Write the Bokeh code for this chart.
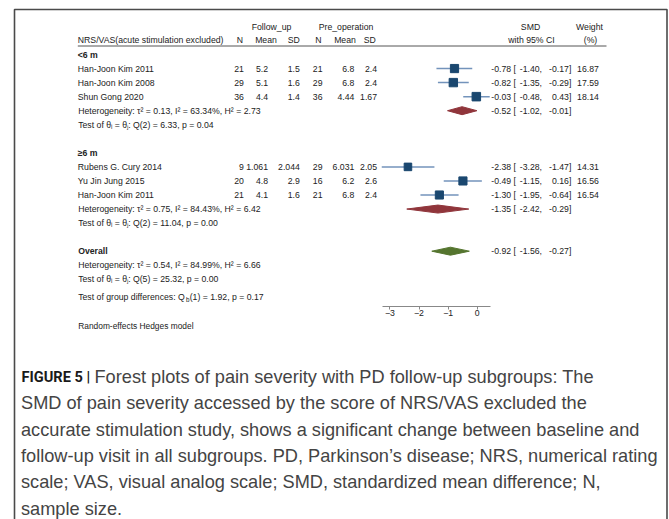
from math import sqrt
from bokeh.plotting import figure
from bokeh.models import Range1d, ColumnDataSource, LinearAxis, FixedTicker
from bokeh.core.properties import value
from bokeh.embed import file_html
from bokeh.resources import INLINE

# ---------------- data ----------------
groups = ["<6 m", "≥6 m"]
study_group = [0, 0, 0, 1, 1, 1]
studies = ["Han-Joon Kim 2011", "Han-Joon Kim 2008", "Shun Gong 2020",
           "Rubens G. Cury 2014", "Yu Jin Jung 2015", "Han-Joon Kim 2011"]
fu_n = [21, 29, 36, 9, 20, 21]
fu_mean = [5.2, 5.1, 4.4, 1.061, 4.8, 4.1]
fu_sd = [1.5, 1.6, 1.4, 2.044, 2.9, 1.6]
pre_n = [21, 29, 36, 29, 16, 21]
pre_mean = [6.8, 6.8, 4.44, 6.031, 6.2, 6.8]
pre_sd = [2.4, 2.4, 1.67, 2.05, 2.6, 2.4]
smd = [-0.78, -0.82, -0.03, -2.38, -0.49, -1.30]
smd_lo = [-1.40, -1.35, -0.48, -3.28, -1.15, -1.95]
smd_hi = [-0.17, -0.29, 0.43, -1.47, 0.16, -0.64]
weight = [16.87, 17.59, 18.14, 14.31, 16.56, 16.54]

sub_smd = [-0.52, -1.35]
sub_lo = [-1.02, -2.42]
sub_hi = [-0.01, -0.29]
sub_tau2 = [0.13, 0.75]
sub_i2 = [63.34, 84.43]
sub_h2 = [2.73, 6.42]
sub_qdf = [2, 2]
sub_q = [6.33, 11.04]
sub_p = [0.04, 0.00]

overall_smd, overall_lo, overall_hi = -0.92, -1.56, -0.27
overall_tau2, overall_i2, overall_h2 = 0.54, 84.99, 6.66
overall_qdf, overall_q, overall_p = 5, 25.32, 0.00
qb_df, qb, qb_p = 1, 1.92, 0.17

axis_ticks = [-3, -2, -1, 0]

caption_bold = "FIGURE 5 |"
caption_lines = [
    "Forest plots of pain severity with PD follow-up subgroups: The",
    "SMD of pain severity accessed by the score of NRS/VAS excluded the",
    "accurate stimulation study, shows a significant change between baseline and",
    "follow-up visit in all subgroups. PD, Parkinson\u2019s disease; NRS, numerical rating",
    "scale; VAS, visual analog scale; SMD, standardized mean difference; N,",
    "sample size.",
]

# ---------------- layout ----------------
W, H = 669, 519
ZERO_PX, UNIT_PX = 476.7, 29.1


def X(px):
    return (px - ZERO_PX) / UNIT_PX


p = figure(width=W, height=H, output_backend="svg", toolbar_location=None,
           x_range=Range1d(X(0), X(W)), y_range=Range1d(H, 0),
           x_axis_type=None, y_axis_type=None, min_border=0,
           outline_line_color=None, background_fill_color="white",
           border_fill_color="white")

TXT = "#222222"
FS = "8.7px"


def txt(xs, ys, ss, align="left", size=FS, color=TXT, style="normal",
        font="Liberation Sans", baseline="middle"):
    src = ColumnDataSource(dict(x=xs, y=ys, t=ss))
    p.text(x="x", y="y", text="t", source=src, text_align=align,
           text_baseline=baseline, text_font=value(font),
           text_font_size=value(size), text_color=color, text_font_style=style)


STEP, ROW0 = 14.05, 54.0


def row(r):
    return ROW0 + r * STEP


# frame
p.line(x=[X(14), X(14), X(666.5), X(666.5)], y=[H, 9, 9, H],
       line_color="#4a4a4a", line_width=1.6)

# header
txt([X(271), X(345.5), X(530), X(589)], [26.7] * 4,
    ["Follow_up", "Pre_operation", "SMD", "Weight"], align="center")
txt([X(77.3)], [39.3], ["NRS/VAS(acute stimulation excluded)"])
txt([X(242.5), X(299.3)], [39.3] * 2, ["N", "SD"], align="right")
txt([X(265.5), X(318), X(344.5), X(369.3), X(531), X(590)], [39.3] * 6,
    ["Mean", "N", "Mean", "SD", "with 95% CI", "(%)"], align="center")
p.line(x=[X(77.3), X(606)], y=[45.5, 45.5], line_color="#555555", line_width=1)

# row assignment
study_rows, head_rows, sum_rows = [], [], []
r = 0
for g in range(len(groups)):
    head_rows.append(row(r))
    r += 1
    for i, sg in enumerate(study_group):
        if sg == g:
            study_rows.append(row(r))
            r += 1
    sum_rows.append(row(r))
    r += 3
overall_row = row(r)
overall_het = row(r + 1)
overall_test = row(r + 2)
groupdiff_row = overall_test + 17.9

# group headers
txt([X(77.3)] * len(groups), head_rows, groups, style="bold")
txt([X(77.7)], [overall_row], ["Overall"], style="bold")

# study table
txt([X(77.3)] * len(studies), study_rows, studies)
txt([X(243.3)] * 6, study_rows, [f"{v}" for v in fu_n], align="right")
txt([X(267.5)] * 6, study_rows, [f"{v:g}" for v in fu_mean], align="right")
txt([X(299.3)] * 6, study_rows, [f"{v:g}" for v in fu_sd], align="right")
txt([X(322)] * 6, study_rows, [f"{v}" for v in pre_n], align="right")
txt([X(353.8)] * 6, study_rows, [f"{v:g}" for v in pre_mean], align="right")
txt([X(376.5)] * 6, study_rows, [f"{v:g}" for v in pre_sd], align="right")


def ci_cols(ests, los, his, ys):
    txt([X(515.5)] * len(ys), ys, [f"{e:.2f} [" for e in ests], align="right")
    txt([X(541.5)] * len(ys), ys, [f"{l:.2f}," for l in los], align="right")
    txt([X(570.8)] * len(ys), ys, [f"{h:.2f}]" for h in his], align="right")


ci_cols(smd, smd_lo, smd_hi, study_rows)
txt([X(598.3)] * 6, study_rows, [f"{w:.2f}" for w in weight], align="right")
ci_cols(sub_smd, sub_lo, sub_hi, sum_rows)
ci_cols([overall_smd], [overall_lo], [overall_hi], [overall_row])

# heterogeneity lines
het = [f"Heterogeneity: \u03c4\u00b2 = {t:.2f}, I\u00b2 = {i:.2f}%, H\u00b2 = {h:.2f}"
       for t, i, h in zip(sub_tau2 + [overall_tau2], sub_i2 + [overall_i2],
                          sub_h2 + [overall_h2])]
tests = [f"Test of \u03b8\u1d62 = \u03b8\u2c7c: Q({d}) = {q:.2f}, p = {pp:.2f}"
         for d, q, pp in zip(sub_qdf + [overall_qdf], sub_q + [overall_q],
                             sub_p + [overall_p])]
het_y = sum_rows + [overall_het]
test_y = [y + STEP for y in sum_rows] + [overall_test]
txt([X(77.7)] * 3, het_y, het)
txt([X(77.7)] * 3, test_y, tests)

txt([X(77.7)], [groupdiff_row], ["Test of group differences: Q"])
txt([X(185.6)], [groupdiff_row + 2.3], ["b"], size="6.3px")
txt([X(189.2)], [groupdiff_row], [f"({qb_df}) = {qb:.2f}, p = {qb_p:.2f}"])

txt([X(77.7)], [325], ["Random-effects Hedges model"], size="8.4px")

# forest marks
p.segment(x0=smd_lo, x1=smd_hi, y0=study_rows, y1=study_rows,
          line_color="#7393bb", line_width=1.5)
p.scatter(x=smd, y=study_rows, marker="square",
          size=[2.0 * sqrt(w) for w in weight], fill_color="#1a476f",
          line_color="#1a476f")

DH = 4.0
p.patches(xs=[[l, e, h, e] for l, e, h in zip(sub_lo, sub_smd, sub_hi)],
          ys=[[y, y - DH, y, y + DH] for y in sum_rows],
          fill_color="#90353b", line_color="#90353b")
p.patches(xs=[[overall_lo, overall_smd, overall_hi, overall_smd]],
          ys=[[overall_row, overall_row - DH, overall_row, overall_row + DH]],
          fill_color="#55752f", line_color="#55752f")

ax = LinearAxis(fixed_location=305.7, bounds=(-3.27, 0.44),
                ticker=FixedTicker(ticks=axis_ticks),
                major_tick_out=3, major_tick_in=0, minor_tick_out=0, minor_tick_in=0,
                axis_line_color="#888888", major_tick_line_color="#888888",
                major_label_text_font_size="8.7px", major_label_standoff=1,
                major_label_text_color=TXT, major_label_text_font="Liberation Sans")
p.add_layout(ax, "below")

# caption
CAP_Y0, CAP_STEP = 376.5, 26.3
CAP_FS = "18.2px"
CAP_COL = "#444444"
cap_y = [CAP_Y0 + i * CAP_STEP for i in range(len(caption_lines))]
txt([X(21)], [cap_y[0]], [caption_bold], size="14.6px", style="bold",
    font="Roboto", color="#1a1a1a")
txt([X(94)], [cap_y[0]], [caption_lines[0]], size=CAP_FS, color=CAP_COL)
txt([X(20.5)] * (len(caption_lines) - 1), cap_y[1:], caption_lines[1:],
    size=CAP_FS, color=CAP_COL)

open("out.html", "w").write(file_html(p, INLINE))
